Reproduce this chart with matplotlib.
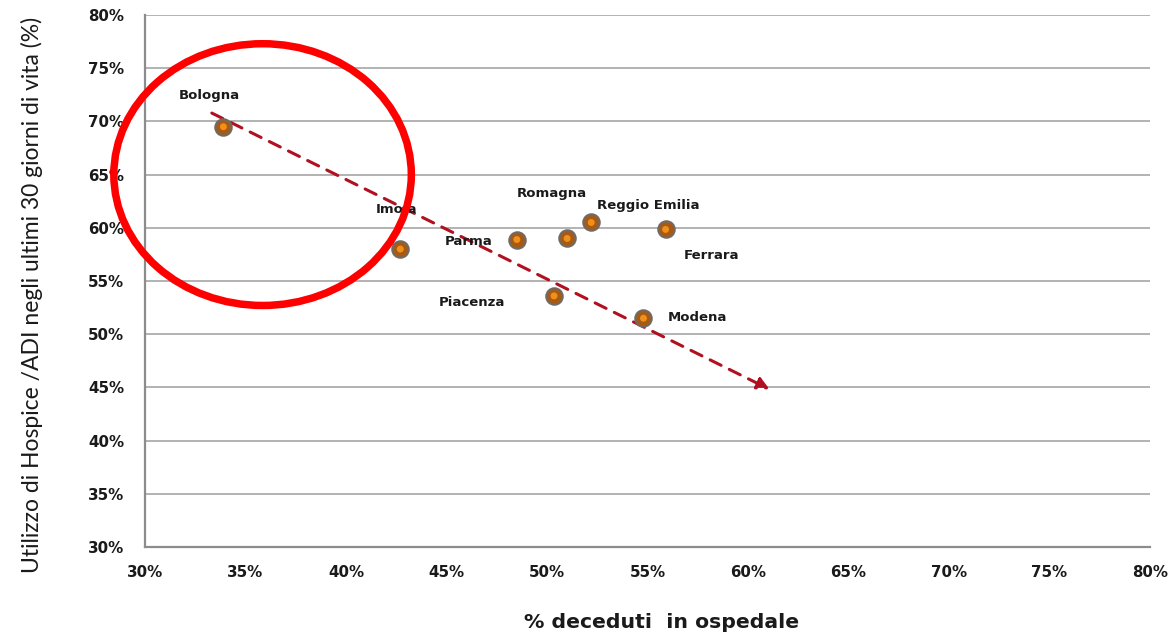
import matplotlib
matplotlib.use("Agg")
import matplotlib.pyplot as plt
from matplotlib.patches import Ellipse, FancyArrowPatch

# ---- data ----
regions = ["Bologna", "Imola", "Parma", "Romagna", "Reggio Emilia", "Ferrara", "Piacenza", "Modena"]
deceased_hospital = [33.9, 42.7, 48.5, 51.0, 52.2, 55.9, 50.35, 54.8]
hospice_adi = [69.5, 58.0, 58.9, 59.0, 60.5, 59.85, 53.6, 51.5]
# label positions (data coords, left-aligned text)
label_x = [31.7, 41.5, 44.9, 48.5, 52.5, 56.8, 44.6, 56.0]
label_y = [72.4, 61.7, 58.7, 63.2, 62.1, 57.4, 53.0, 51.6]
trend_start = (33.2, 70.9)
trend_end = (61.2, 44.7)
circle_center = (35.85, 65.0)
circle_w, circle_h = 14.8, 24.6
ticks = [30, 35, 40, 45, 50, 55, 60, 65, 70, 75, 80]
tick_labels = [f"{t}%" for t in ticks]

fig = plt.figure(figsize=(11.69, 6.38), dpi=100)
ax = fig.add_axes([145/1169, 1-547/638, (1150-145)/1169, (547-15)/638])
ax.set_xlim(30, 80)
ax.set_ylim(30, 80)

ax.set_yticks(ticks)
ax.set_yticklabels(tick_labels)
ax.set_xticks(ticks)
ax.set_xticklabels(tick_labels)
for lab in ax.get_xticklabels() + ax.get_yticklabels():
    lab.set_fontweight("bold")
    lab.set_fontsize(10.8)
    lab.set_color("#1a1a1a")
ax.tick_params(axis="x", length=0, pad=13)
ax.tick_params(axis="y", length=0, pad=15)

ax.grid(axis="y", color="#a6a6a6", linewidth=1.2)
ax.set_axisbelow(True)
for s in ["top", "right"]:
    ax.spines[s].set_visible(False)
for s in ["left", "bottom"]:
    ax.spines[s].set_color("#8c8c8c")
    ax.spines[s].set_linewidth(1.6)

# trend arrow
arrow = FancyArrowPatch(trend_start, trend_end, arrowstyle="-|>", mutation_scale=18,
                        color="#b01020", linewidth=2.2, linestyle=(0, (4, 3)), zorder=3)
ax.add_patch(arrow)

# points
ax.scatter(deceased_hospital, hospice_adi, s=140, c="#a85a12", edgecolors="#6f6a66",
           linewidths=1.5, zorder=4)
ax.scatter(deceased_hospital, hospice_adi, s=25, c="#f0901c", edgecolors="none", zorder=5)

for name, lx, ly in zip(regions, label_x, label_y):
    ax.text(lx, ly, name, fontsize=9.5, fontweight="bold", color="#1a1a1a",
            ha="left", va="center", zorder=6)

# red circle
ell = Ellipse(circle_center, circle_w, circle_h, fill=False, edgecolor="#ff0000",
              linewidth=5.4, clip_on=False, zorder=7)
ax.add_patch(ell)

fig.text(32/1169, 1-295/638, "Utilizzo di Hospice /ADI negli ultimi 30 giorni di vita (%)",
         rotation=90, ha="center", va="center", fontsize=16.5, family="Lato",
         color="#1a1a1a")
fig.text(662/1169, 1-622/638, "% deceduti  in ospedale", ha="center", va="center",
         fontsize=14.7, fontweight="bold", color="#1a1a1a")

fig.savefig("out.png", dpi=100)
